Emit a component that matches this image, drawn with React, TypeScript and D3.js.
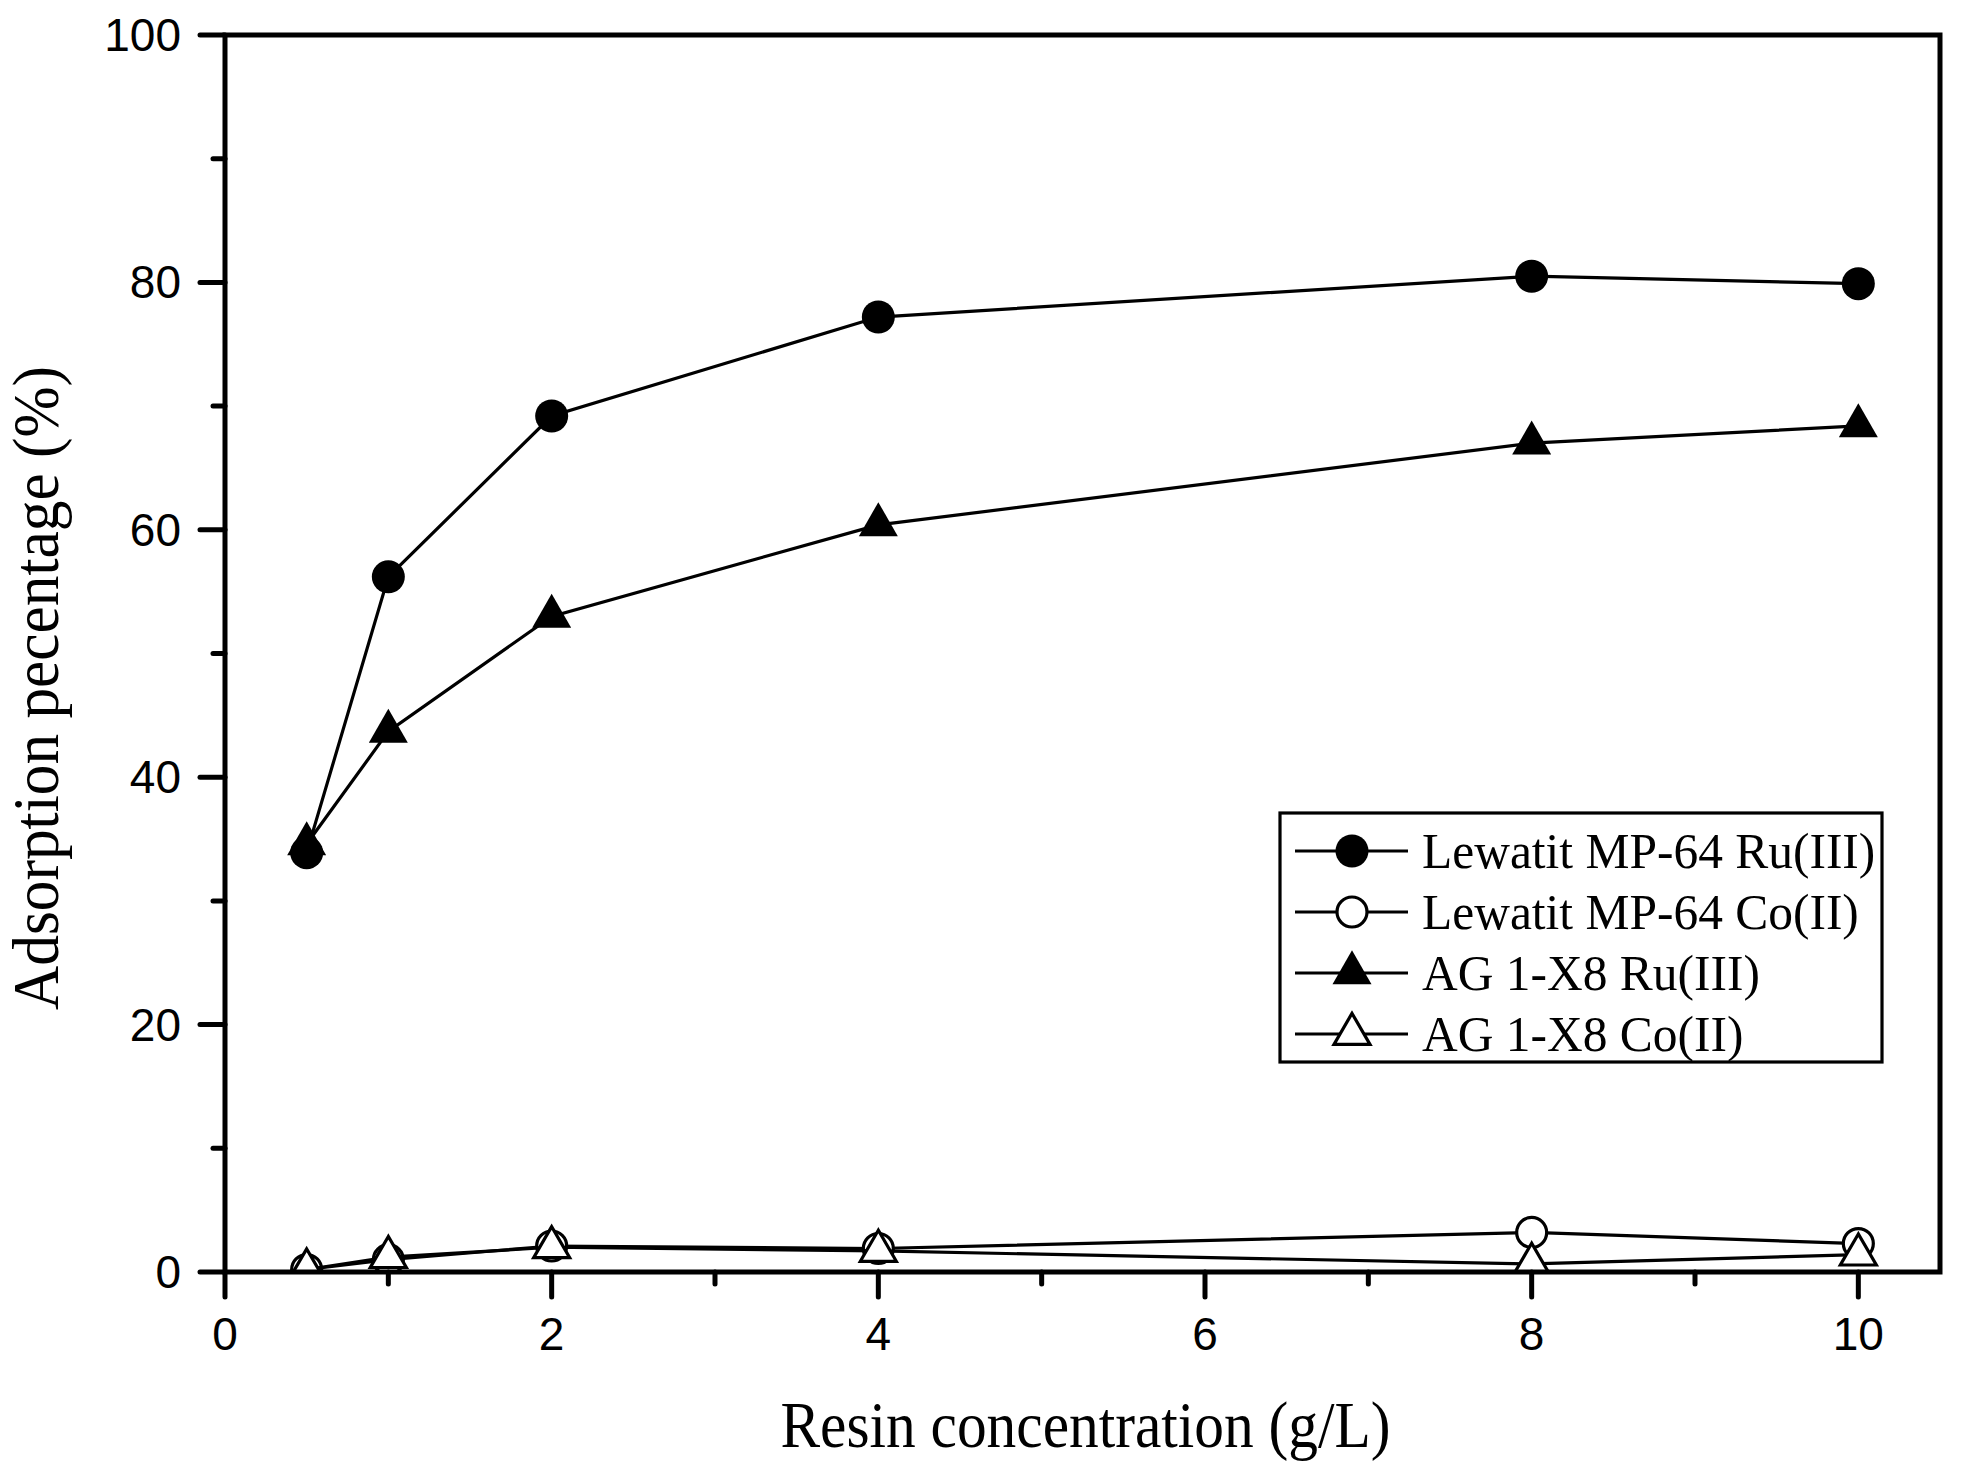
import React from "react";
import * as d3 from "d3";

const xValues = [0.5, 1, 2, 4, 8, 10];
const lewatitRu = [33.9, 56.2, 69.2, 77.2, 80.5, 79.9];
const lewatitCo = [0.2, 1.0, 2.1, 1.9, 3.2, 2.3];
const agRu = [34.6, 43.7, 53.0, 60.4, 67.0, 68.4];
const agCo = [0.2, 1.2, 2.0, 1.7, 0.65, 1.4];
const seriesNames = ["Lewatit MP-64 Ru(III)", "Lewatit MP-64 Co(II)", "AG 1-X8 Ru(III)", "AG 1-X8 Co(II)"];
const xMajorTicks = [0, 2, 4, 6, 8, 10];
const xMinorTicks = [1, 3, 5, 7, 9];
const yMajorTicks = [0, 20, 40, 60, 80, 100];
const yMinorTicks = [10, 30, 50, 70, 90];
const xTitle = "Resin concentration (g/L)";
const yTitle = "Adsorption pecentage (%)";

const W = 1962;
const H = 1476;
const L = 225, R = 1940, T = 35, B = 1272;

type Shape = "circle" | "triangle";

function Marker({ x, y, shape, filled }: { x: number; y: number; shape: Shape; filled: boolean }) {
  const fill = filled ? "#000" : "#fff";
  const sw = filled ? 0 : 3.2;
  if (shape === "circle") {
    const r = filled ? 16.5 : 15;
    return <circle cx={x} cy={y} r={r} fill={fill} stroke="#000" strokeWidth={sw} />;
  }
  const w = filled ? 39 : 36;
  const h = filled ? 34 : 31;
  const pts = [
    [x, y - (2 * h) / 3],
    [x - w / 2, y + h / 3],
    [x + w / 2, y + h / 3],
  ];
  return <polygon points={pts.map((p) => p.join(",")).join(" ")} fill={fill} stroke="#000" strokeWidth={sw} strokeLinejoin="miter" />;
}

export default function App() {
  const x = d3.scaleLinear().domain([0, 10.5]).range([L, R]);
  const y = d3.scaleLinear().domain([0, 100]).range([B, T]);

  const series: { name: string; values: number[]; shape: Shape; filled: boolean }[] = [
    { name: seriesNames[0], values: lewatitRu, shape: "circle", filled: true },
    { name: seriesNames[1], values: lewatitCo, shape: "circle", filled: false },
    { name: seriesNames[2], values: agRu, shape: "triangle", filled: true },
    { name: seriesNames[3], values: agCo, shape: "triangle", filled: false },
  ];

  const line = d3
    .line<number>()
    .x((_, i) => x(xValues[i]))
    .y((d) => y(d));

  const tickFont = "'Liberation Sans', Arial, Helvetica, sans-serif";
  const titleFont = "'Liberation Serif', 'Times New Roman', Times, serif";

  const legX = 1280, legY = 813, legW = 602, legH = 249;
  const rowY = [851, 912, 973, 1034];

  return (
    <svg width={W} height={H} style={{ position: "absolute", left: 0, top: 0, background: "#fff" }}>
      <rect x={0} y={0} width={W} height={H} fill="#fff" />
      <defs>
        <clipPath id="plotClip">
          <rect x={L} y={T} width={R - L} height={B - T} />
        </clipPath>
      </defs>

      {/* data */}
      <g clipPath="url(#plotClip)">
        {series.map((s, si) => (
          <g key={si}>
            <path d={line(s.values) || ""} fill="none" stroke="#000" strokeWidth={3.2} />
            {s.values.map((v, i) => (
              <Marker key={i} x={x(xValues[i])} y={y(v)} shape={s.shape} filled={s.filled} />
            ))}
          </g>
        ))}
      </g>

      {/* frame */}
      <rect x={L} y={T} width={R - L} height={B - T} fill="none" stroke="#000" strokeWidth={5} />

      {/* y ticks */}
      {yMajorTicks.map((t) => (
        <g key={"ym" + t}>
          <line x1={L - 25} x2={L} y1={y(t)} y2={y(t)} stroke="#000" strokeWidth={5} strokeLinecap="round" />
          <text x={181} y={y(t) + 16} textAnchor="end" fontFamily={tickFont} fontSize={46}>
            {t}
          </text>
        </g>
      ))}
      {yMinorTicks.map((t) => (
        <line key={"yn" + t} x1={L - 12} x2={L} y1={y(t)} y2={y(t)} stroke="#000" strokeWidth={5} strokeLinecap="round" />
      ))}

      {/* x ticks */}
      {xMajorTicks.map((t) => (
        <g key={"xm" + t}>
          <line x1={x(t)} x2={x(t)} y1={B} y2={B + 25} stroke="#000" strokeWidth={5} strokeLinecap="round" />
          <text x={x(t)} y={1350} textAnchor="middle" fontFamily={tickFont} fontSize={46}>
            {t}
          </text>
        </g>
      ))}
      {xMinorTicks.map((t) => (
        <line key={"xn" + t} x1={x(t)} x2={x(t)} y1={B} y2={B + 12} stroke="#000" strokeWidth={5} strokeLinecap="round" />
      ))}

      {/* axis titles */}
      <text
        transform={`translate(${(L + R) / 2 + 3},1447) scale(0.9,1)`}
        textAnchor="middle"
        fontFamily={titleFont}
        fontSize={66}
      >
        {xTitle}
      </text>
      <text
        transform={`translate(58,${688}) rotate(-90) scale(0.93,1)`}
        textAnchor="middle"
        fontFamily={titleFont}
        fontSize={66}
      >
        {yTitle}
      </text>

      {/* legend */}
      <rect x={legX} y={legY} width={legW} height={legH} fill="#fff" stroke="#000" strokeWidth={3.2} />
      {series.map((s, i) => (
        <g key={"leg" + i}>
          <line x1={1295} x2={1408} y1={rowY[i]} y2={rowY[i]} stroke="#000" strokeWidth={3.2} />
          <Marker x={1352} y={rowY[i]} shape={s.shape} filled={s.filled} />
          <text transform={`translate(1422,${rowY[i] + 17}) scale(0.97,1)`} fontFamily={titleFont} fontSize={51}>
            {s.name}
          </text>
        </g>
      ))}
    </svg>
  );
}
